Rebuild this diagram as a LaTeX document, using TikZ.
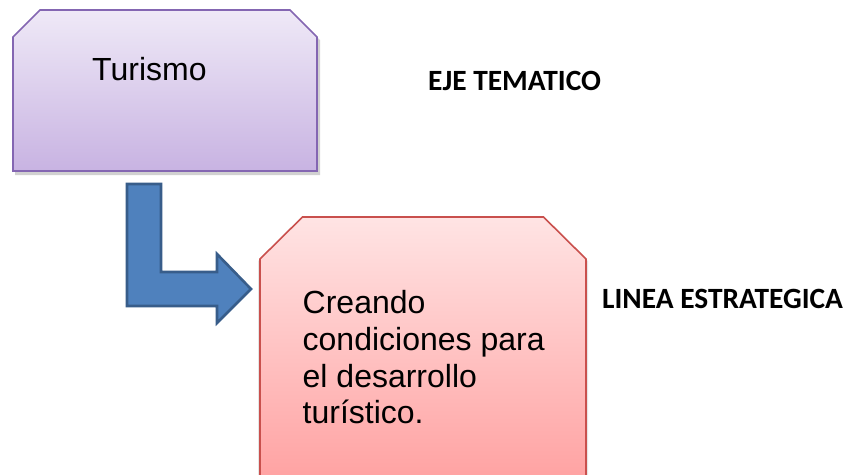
\documentclass[tikz,border=0pt]{standalone}
\usepackage{fontspec}
\setmainfont{Liberation Sans}
\newfontfamily\calib{Carlito}
\definecolor{purpTop}{HTML}{EFE9F7}
\definecolor{purpBot}{HTML}{C8B3E2}
\definecolor{purpLine}{HTML}{8466B2}
\definecolor{pinkTop}{HTML}{FFE4E4}
\definecolor{pinkBot}{HTML}{FFA2A2}
\definecolor{pinkLine}{HTML}{C9504D}
\definecolor{arrFill}{HTML}{4F81BD}
\definecolor{arrLine}{HTML}{385D8A}
\tikzset{
  boxtext/.style={inner sep=0pt, font=\fontsize{32}{36.7}\selectfont, text=black},
  labeltext/.style={inner sep=0pt, font=\calib\bfseries\fontsize{29.4}{33}\selectfont, text=black},
  shadowpath/.style={fill=black!18},
}
\begin{document}
\begin{tikzpicture}[x=1pt,y=-1pt]
\clip (0,0) rectangle (850,474);
\fill[white] (0,0) rectangle (850,474);
% shadows
\fill[shadowpath] (15,40) -- (42,13) -- (292,13) -- (320,40) -- (320,175) -- (15,175) -- cycle;
\fill[black!10] (258,261) -- (301,219) -- (545,219) -- (588,261) -- (588,480) -- (258,480) -- cycle;
% purple box
\path[draw=purpLine, line width=1.6pt, top color=purpTop, bottom color=purpBot]
  (13,37) -- (40,10) -- (290,10) -- (317,37) -- (317,171) -- (13,171) -- cycle;
\node[boxtext, anchor=base west] (turismo) at (92,80) {Turismo};
% pink box
\path[draw=pinkLine, line width=1.6pt, top color=pinkTop, bottom color=pinkBot]
  (260,259) -- (302.5,217) -- (543.5,217) -- (586,259) -- (586,480) -- (260,480) -- cycle;
\node[boxtext, anchor=base west] (l1) at (302.5,313) {Creando};
\node[boxtext, anchor=base west] (l2) at (302.5,350) {condiciones para};
\node[boxtext, anchor=base west] (l3) at (302.5,387) {el desarrollo};
\node[boxtext, anchor=base west] (l4) at (302.5,423) {turístico.};
% bent arrow
\path[fill=arrFill, draw=arrLine, line width=2.6pt, line join=miter]
  (127,184) -- (127,306) -- (217,306) -- (217,323) -- (251,289) -- (217,254) -- (217,272) -- (161,272) -- (161,184) -- cycle;
% labels
\node[labeltext, anchor=base west] (eje) at (428,90) {EJE TEMATICO};
\node[labeltext, anchor=base west] (linea) at (602,308) {LINEA ESTRATEGICA};
\end{tikzpicture}
\end{document}
